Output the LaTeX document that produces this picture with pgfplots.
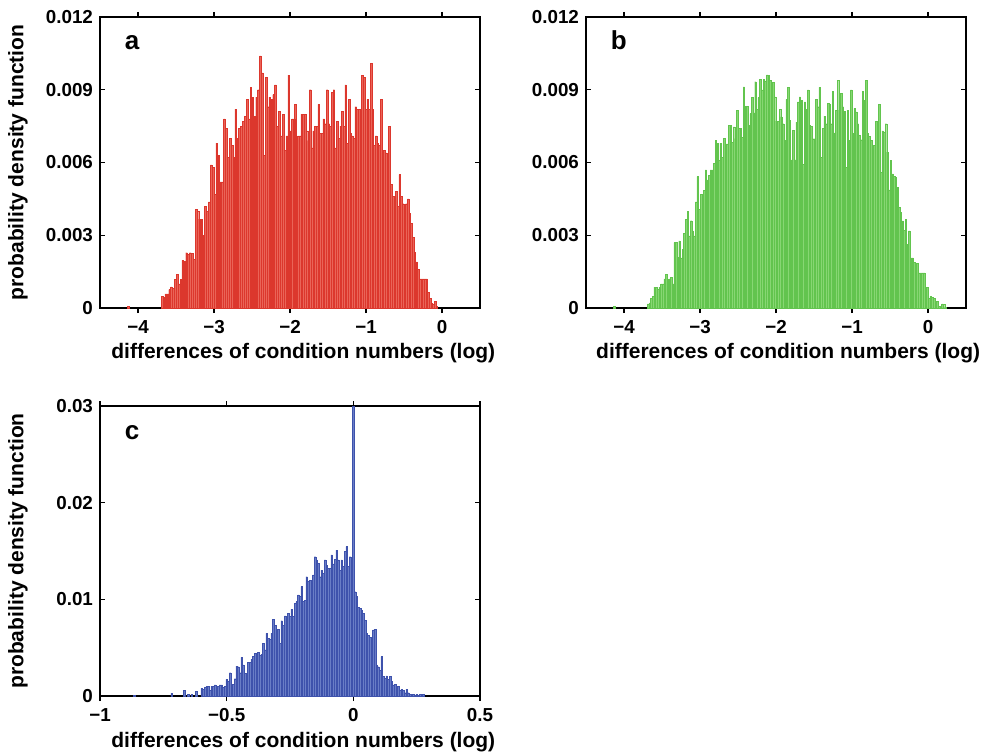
\documentclass[border=0pt]{standalone}
\usepackage{pgfplots}
\pgfplotsset{compat=1.18}
\usepackage{fontspec}
\setmainfont{Liberation Sans}
\definecolor{redfill}{RGB}{234,100,88}
\definecolor{rededge}{RGB}{220,55,45}
\definecolor{grnfill}{RGB}{135,215,115}
\definecolor{grnedge}{RGB}{98,196,78}
\definecolor{blufill}{RGB}{105,125,198}
\definecolor{bluedge}{RGB}{62,82,172}
\pgfplotsset{
  panel/.style={
    scale only axis, width=190pt, height=145.5pt,
    axis line style={line width=0.8pt},
    tick style={black, line width=0.6pt},
    major tick length=2.5pt,
    tick align=inside, tick pos=both,
    scaled y ticks=false, scaled x ticks=false,
    tick label style={font=\fontsize{9.4}{10}\selectfont\bfseries},
    label style={font=\fontsize{10.5}{12}\selectfont\bfseries},
    ybar, ymin=0,
    xlabel={differences of condition numbers (log)},
  },
}
\tikzset{panelletter/.style={anchor=base west, font=\fontsize{13}{13}\selectfont\bfseries}}
\begin{document}
\begin{tikzpicture}
\path[use as bounding box] (0,0) rectangle (491.5pt,-377pt);
% ---------------- panel a
\begin{axis}[panel, at={(50pt,-8.5pt)}, anchor=north west,
  xmin=-4.5, xmax=0.5, ymax=0.012,
  xtick={-4,-3,-2,-1,0}, xticklabels={−4,−3,−2,−1,0},
  ytick={0,0.003,0.006,0.009,0.012}, yticklabels={0,0.003,0.006,0.009,0.012},
  ylabel={probability density function},
  ylabel style={at={(axis description cs:-0.216,0.5)}, anchor=center},
  xlabel style={at={(axis description cs:0.535,-0.172)}, anchor=base},
]
\addplot[fill=redfill, draw=rededge, line width=0.2pt, bar width=0.022] coordinates {
(-4.13,0.00008)
(-3.685,0.00048) (-3.660,0.00044) (-3.635,0.00058) (-3.610,0.00058) (-3.585,0.00076) (-3.561,0.00087) (-3.536,0.0008) (-3.511,0.00118) (-3.486,0.00138) (-3.461,0.001)
(-3.436,0.00118) (-3.411,0.00196) (-3.386,0.00191) (-3.361,0.00228) (-3.336,0.00221) (-3.312,0.00228) (-3.287,0.00224) (-3.262,0.002) (-3.237,0.00408) (-3.212,0.004)
(-3.187,0.00366) (-3.162,0.00366) (-3.137,0.003) (-3.112,0.00418) (-3.087,0.004) (-3.063,0.00438) (-3.038,0.0059) (-3.013,0.0058) (-2.988,0.0047) (-2.963,0.0068)
(-2.938,0.0063) (-2.913,0.0052) (-2.888,0.0052) (-2.863,0.0078) (-2.838,0.0074) (-2.814,0.0062) (-2.789,0.007) (-2.764,0.0067) (-2.739,0.0062) (-2.714,0.0082)
(-2.689,0.007) (-2.664,0.0074) (-2.639,0.0075) (-2.614,0.0077) (-2.589,0.0079) (-2.565,0.0086) (-2.540,0.0078) (-2.515,0.0091) (-2.490,0.0087) (-2.465,0.0079)
(-2.440,0.0087) (-2.415,0.009) (-2.390,0.0104) (-2.365,0.0097) (-2.340,0.0063) (-2.316,0.0095) (-2.291,0.0083) (-2.266,0.0087) (-2.241,0.0086) (-2.216,0.0088)
(-2.191,0.0092) (-2.166,0.0075) (-2.141,0.0081) (-2.116,0.0071) (-2.091,0.008) (-2.067,0.0065) (-2.042,0.0071) (-2.017,0.0096) (-1.992,0.0073) (-1.967,0.0078)
(-1.945,0.0078) (-1.934,0.0084) (-1.912,0.0066) (-1.889,0.0071) (-1.867,0.0071) (-1.845,0.0080) (-1.823,0.0080) (-1.801,0.0080) (-1.778,0.0073) (-1.756,0.0069)
(-1.734,0.0090) (-1.712,0.0066) (-1.690,0.0073) (-1.667,0.0075) (-1.645,0.0075) (-1.623,0.0084) (-1.601,0.0072) (-1.579,0.0072) (-1.556,0.0078) (-1.534,0.0076)
(-1.512,0.0090) (-1.490,0.0076) (-1.468,0.0075) (-1.445,0.0089) (-1.423,0.0090) (-1.401,0.0066) (-1.379,0.0077) (-1.357,0.0070) (-1.334,0.0075) (-1.312,0.0081)
(-1.290,0.0075) (-1.268,0.0092) (-1.246,0.0068) (-1.223,0.0086) (-1.201,0.0072) (-1.179,0.0071) (-1.157,0.0070) (-1.135,0.0083) (-1.112,0.0082) (-1.090,0.0082)
(-1.068,0.0061) (-1.046,0.0096) (-1.024,0.0095) (-1.001,0.0082) (-0.979,0.0086) (-0.957,0.0082) (-0.935,0.0101) (-0.913,0.0082) (-0.890,0.0067) (-0.868,0.0071)
(-0.846,0.0068) (-0.824,0.0067) (-0.802,0.0086) (-0.779,0.0050) (-0.757,0.0065) (-0.735,0.0064) (-0.713,0.0042) (-0.691,0.0075) (-0.668,0.0051) (-0.646,0.0046)
(-0.624,0.0046) (-0.602,0.0048) (-0.580,0.0042) (-0.557,0.0055) (-0.535,0.0046) (-0.513,0.0043) (-0.491,0.0037) (-0.469,0.0043) (-0.446,0.0045) (-0.424,0.0039)
(-0.402,0.0035) (-0.380,0.0029) (-0.358,0.0023) (-0.335,0.0019) (-0.313,0.0016) (-0.291,0.0012) (-0.269,0.0012) (-0.247,0.0012) (-0.224,0.0012) (-0.202,0.0012)
(-0.180,0.00065) (-0.158,0.0004) (-0.136,0.0002) (-0.113,0.00017) (-0.091,0.00028) (-0.069,0.00007)
};
\node[panelletter] at (rel axis cs:0.047,0.89) {a};
\end{axis}
% ---------------- panel b
\begin{axis}[panel, at={(293pt,-8.5pt)}, anchor=north west,
  xmin=-4.5, xmax=0.5, ymax=0.012,
  xtick={-4,-3,-2,-1,0}, xticklabels={−4,−3,−2,−1,0},
  ytick={0,0.003,0.006,0.009,0.012}, yticklabels={0,0.003,0.006,0.009,0.012},
  xlabel style={at={(axis description cs:0.532,-0.172)}, anchor=base},
]
\addplot[fill=grnfill, draw=grnedge, line width=0.2pt, bar width=0.02] coordinates {
(-4.13,0.00008)
(-3.683,0.00017) (-3.661,0.00021) (-3.640,0.00039) (-3.618,0.00048) (-3.596,0.00086) (-3.574,0.00086) (-3.553,0.00076) (-3.531,0.00086) (-3.509,0.001) (-3.487,0.001)
(-3.466,0.0012) (-3.444,0.00138) (-3.422,0.00118) (-3.400,0.0012) (-3.379,0.00127) (-3.357,0.001) (-3.335,0.0027) (-3.313,0.0027) (-3.292,0.0021) (-3.270,0.00277)
(-3.248,0.00207) (-3.226,0.00242) (-3.205,0.00307) (-3.183,0.00366) (-3.161,0.004) (-3.140,0.00297) (-3.118,0.0036) (-3.096,0.00318) (-3.074,0.00297) (-3.053,0.00438)
(-3.031,0.00542) (-3.009,0.00408) (-2.987,0.0047) (-2.966,0.0047) (-2.944,0.00484) (-2.922,0.0057) (-2.900,0.00528) (-2.879,0.00546) (-2.857,0.0057) (-2.835,0.0057)
(-2.813,0.00597) (-2.792,0.00691) (-2.770,0.0068) (-2.748,0.00608) (-2.727,0.0068) (-2.705,0.00622) (-2.683,0.00701) (-2.661,0.00677) (-2.640,0.00677) (-2.618,0.00753)
(-2.596,0.00753) (-2.574,0.00684) (-2.553,0.00747) (-2.531,0.00698) (-2.509,0.00816) (-2.487,0.0074) (-2.466,0.0074) (-2.444,0.00705) (-2.422,0.00912) (-2.400,0.00832)
(-2.379,0.00832) (-2.357,0.00753) (-2.335,0.00802) (-2.313,0.00868) (-2.292,0.00805) (-2.270,0.00933) (-2.248,0.00818) (-2.227,0.00868) (-2.205,0.00943) (-2.183,0.00899)
(-2.161,0.00943) (-2.139,0.00937) (-2.118,0.00961) (-2.096,0.0096)
(-2.079,0.0094) (-2.057,0.00892) (-2.035,0.0093) (-2.014,0.00871) (-1.992,0.00771) (-1.970,0.00771) (-1.948,0.00818) (-1.926,0.00788) (-1.905,0.0076) (-1.883,0.00691)
(-1.861,0.0086) (-1.839,0.0091) (-1.817,0.00774) (-1.796,0.00611) (-1.774,0.00733) (-1.752,0.00611) (-1.730,0.00767) (-1.708,0.0085) (-1.687,0.00871) (-1.665,0.00857)
(-1.643,0.00592) (-1.621,0.0085) (-1.599,0.00818) (-1.578,0.00899) (-1.556,0.00753) (-1.534,0.00749) (-1.512,0.00698) (-1.490,0.00698) (-1.469,0.0086) (-1.447,0.0083)
(-1.425,0.0091) (-1.403,0.00622) (-1.381,0.0074) (-1.360,0.00791) (-1.338,0.0076) (-1.316,0.00843) (-1.294,0.0084) (-1.272,0.0076) (-1.251,0.00892) (-1.229,0.00722)
(-1.207,0.00816) (-1.185,0.0094) (-1.163,0.00816) (-1.142,0.00885) (-1.120,0.0083) (-1.098,0.00812) (-1.076,0.00581) (-1.054,0.00816) (-1.033,0.00691) (-1.011,0.00899)
(-0.989,0.00719) (-0.967,0.00823) (-0.945,0.00809) (-0.924,0.0076) (-0.902,0.00712) (-0.880,0.00694) (-0.858,0.00892) (-0.836,0.00857) (-0.815,0.0094) (-0.793,0.00719)
(-0.771,0.00709) (-0.749,0.00691) (-0.727,0.00653) (-0.706,0.0067) (-0.684,0.0077) (-0.662,0.00719) (-0.640,0.00839) (-0.618,0.0056) (-0.597,0.0073) (-0.575,0.00726)
(-0.553,0.0076) (-0.531,0.00643) (-0.509,0.00487) (-0.488,0.00608) (-0.466,0.00553) (-0.444,0.00543) (-0.422,0.00539) (-0.400,0.00498) (-0.379,0.00415) (-0.357,0.00394)
(-0.335,0.00359) (-0.313,0.00321) (-0.291,0.00366) (-0.270,0.00263) (-0.248,0.00318) (-0.226,0.00207) (-0.204,0.00207) (-0.182,0.00187) (-0.161,0.00129) (-0.139,0.00184)
(-0.117,0.00145) (-0.095,0.00145) (-0.073,0.00145) (-0.052,0.00145) (-0.030,0.00086) (-0.008,0.00086) (0.014,0.00041) (0.036,0.00048) (0.057,0.00044) (0.079,0.00039)
(0.101,0.00028) (0.123,0.00028) (0.145,0.00007) (0.166,0.00007) (0.188,0.00017) (0.210,0.00014) (0.232,0.00004)
};
\node[panelletter] at (rel axis cs:0.047,0.89) {b};
\end{axis}
% ---------------- panel c
\begin{axis}[panel, at={(50pt,-203pt)}, anchor=north west, height=145pt,
  xmin=-1, xmax=0.5, ymax=0.03,
  xtick={-1,-0.5,0,0.5}, xticklabels={−1,−0.5,0,0.5},
  ytick={0,0.01,0.02,0.03}, yticklabels={0,0.01,0.02,0.03},
  ylabel={probability density function},
  ylabel style={at={(axis description cs:-0.216,0.5)}, anchor=center},
  xlabel style={at={(axis description cs:0.535,-0.179)}, anchor=base},
]
\addplot[fill=blufill, draw=bluedge, line width=0.2pt, bar width=0.0062] coordinates {
(-0.865,0.0001) (-0.717,0.00028) (-0.667,0.00055) (-0.651,0.00017) (-0.638,0.00017) (-0.621,0.00045)
(-0.5986,0.00079) (-0.5920,0.00069) (-0.5854,0.0009) (-0.5789,0.00097) (-0.5723,0.00097) (-0.5657,0.00055) (-0.5591,0.00103) (-0.5525,0.00103) (-0.5460,0.00114) (-0.5394,0.00055)
(-0.5328,0.00103) (-0.5262,0.00114) (-0.5196,0.00114) (-0.5131,0.0009) (-0.5065,0.00097) (-0.4999,0.00172) (-0.4933,0.00148) (-0.4867,0.00241) (-0.4802,0.00124) (-0.4736,0.00124)
(-0.4670,0.00179) (-0.4604,0.0031) (-0.4538,0.00303) (-0.4473,0.00241) (-0.4407,0.004) (-0.4341,0.00321) (-0.4275,0.00234) (-0.4209,0.00217) (-0.4144,0.00348) (-0.4078,0.00348)
(-0.4012,0.00379) (-0.3946,0.00407) (-0.3880,0.00441) (-0.3815,0.0039) (-0.3749,0.00448) (-0.3683,0.00424) (-0.3617,0.00434) (-0.3551,0.00545) (-0.3486,0.00476) (-0.3420,0.00648)
(-0.3354,0.00597) (-0.3288,0.00586) (-0.3222,0.00648) (-0.3157,0.00793) (-0.3091,0.00734) (-0.3025,0.00683) (-0.2959,0.0069) (-0.2893,0.00545) (-0.2828,0.00779) (-0.2762,0.00734)
(-0.2696,0.00828) (-0.2630,0.00745) (-0.2564,0.00855) (-0.2499,0.00821) (-0.2433,0.00897) (-0.2367,0.00821)
(-0.2302,0.00959) (-0.2236,0.00976) (-0.2170,0.01045) (-0.2105,0.01028) (-0.2039,0.01131) (-0.1973,0.00976) (-0.1907,0.00993) (-0.1841,0.01234) (-0.1776,0.01183) (-0.1710,0.012)
(-0.1644,0.01131) (-0.1578,0.01252) (-0.1512,0.01441) (-0.1447,0.01407) (-0.1381,0.01372) (-0.1315,0.01234) (-0.1249,0.01303) (-0.1183,0.01269) (-0.1118,0.01407) (-0.1052,0.01355)
(-0.0986,0.01321) (-0.0920,0.01321) (-0.0854,0.01459) (-0.0789,0.01366) (-0.0723,0.01414) (-0.0657,0.0151) (-0.0591,0.01407) (-0.0525,0.01303) (-0.0460,0.01407) (-0.0394,0.01338)
(-0.0328,0.01493) (-0.0262,0.01545) (-0.0196,0.01338) (-0.0131,0.01441) (-0.0065,0.01407) (0.0000,0.0300) (0.0066,0.01079) (0.0132,0.01028) (0.0198,0.00917) (0.0263,0.00907)
(0.0329,0.00883) (0.0395,0.00855) (0.0461,0.00786) (0.0527,0.00648) (0.0592,0.00631) (0.0658,0.00607) (0.0724,0.00597) (0.0790,0.00683) (0.0856,0.0069) (0.0921,0.00321)
(0.0987,0.00303) (0.1053,0.00269) (0.1119,0.00407) (0.1185,0.002) (0.1250,0.00183) (0.1316,0.00207) (0.1382,0.00172) (0.1448,0.002) (0.1514,0.00148) (0.1579,0.00114)
(0.1645,0.00124) (0.1711,0.00097) (0.1777,0.00103) (0.1843,0.00062) (0.1908,0.00069) (0.1974,0.00055) (0.2040,0.00034) (0.2106,0.00069) (0.2172,0.00034) (0.2237,0.00017)
(0.2303,0.0001) (0.2369,0.00017) (0.2435,0.0001) (0.2501,0.00017) (0.2566,0.00007) (0.2632,0.00017) (0.2698,0.00007) (0.2764,0.00017)
};
\node[panelletter] at (rel axis cs:0.047,0.886) {c};
\end{axis}
\end{tikzpicture}
\end{document}
